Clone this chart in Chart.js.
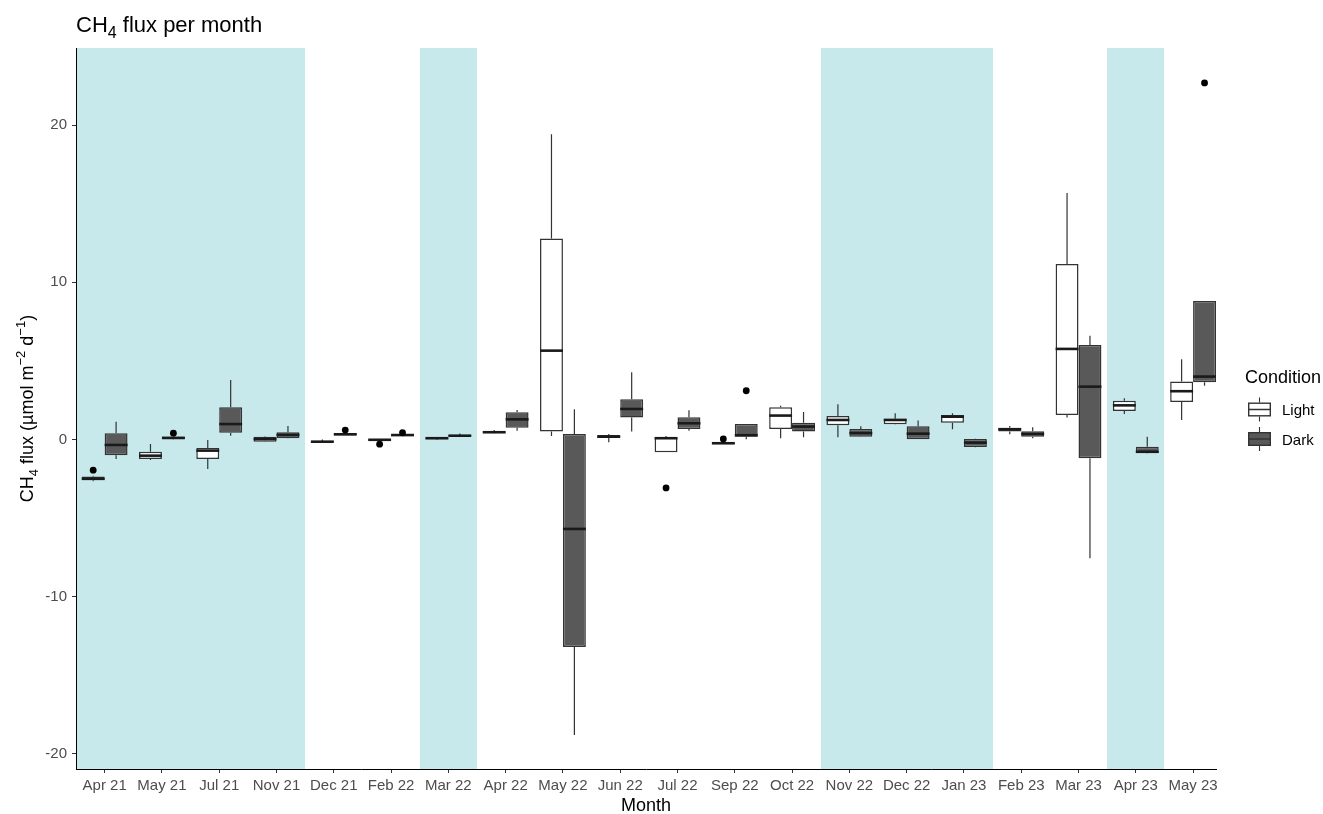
<!DOCTYPE html>
<html>
<head>
<meta charset="utf-8">
<title>CH4 flux per month</title>
<script src="https://cdn.jsdelivr.net/npm/chart.js@4.4.1/dist/chart.umd.min.js"></script>
<style>
  html, body { margin: 0; padding: 0; background: #ffffff; }
  canvas { display: block; }
</style>
</head>
<body>
<canvas id="fluxChart" width="1323" height="814"></canvas>
<script>
// Months on the x axis
const months = ['Apr 21', 'May 21', 'Jul 21', 'Nov 21', 'Dec 21', 'Feb 22', 'Mar 22', 'Apr 22', 'May 22', 'Jun 22',
                'Jul 22', 'Sep 22', 'Oct 22', 'Nov 22', 'Dec 22', 'Jan 23', 'Feb 23', 'Mar 23', 'Apr 23', 'May 23'];

// Months drawn with the blue background
const shadedMonths = ['Apr 21', 'May 21', 'Jul 21', 'Nov 21', 'Mar 22', 'Nov 22', 'Dec 22', 'Jan 23', 'Apr 23'];

// Y axis tick values
const yTicks = [-20, -10, 0, 10, 20];

// Light condition: whisker ends, quartiles, median, outliers
const lightMin    = [-2.65, -1.30, -1.88, -0.16, -0.20, -0.06, -0.03, 0.40, 0.22, -0.18, -0.81, -0.30, 0.08, 0.14, 0.95, 0.65, 0.33, 1.39, 1.62, 1.24];
const lightQ1     = [-2.60, -1.24, -1.24, -0.14, -0.18, -0.05, 0.02, 0.42, 0.50, 0.10, -0.81, -0.30, 0.67, 0.90, 0.97, 1.07, 0.50, 1.56, 1.81, 2.39];
const lightMedian = [-2.50, -1.03, -0.71, 0.03, -0.14, -0.02, 0.08, 0.46, 5.65, 0.18, 0.08, -0.24, 1.52, 1.24, 1.24, 1.45, 0.65, 5.76, 2.17, 3.07];
const lightQ3     = [-2.35, -0.78, -0.54, 0.18, -0.10, 0.00, 0.12, 0.50, 12.78, 0.28, 0.12, -0.18, 2.05, 1.50, 1.32, 1.56, 0.75, 11.16, 2.47, 3.68];
const lightMax    = [-2.30, -0.29, -0.03, 0.20, 0.00, 0.02, 0.14, 0.60, 19.41, 0.35, 0.22, -0.15, 2.15, 2.24, 1.67, 1.67, 0.86, 15.67, 2.62, 5.10];
const lightOutliers = [[-1.95], [], [], [], [], [-0.30], [], [], [], [], [-3.08], [0.03], [], [], [], [], [], [], [], []];

// Dark condition
const darkMin    = [-1.24, 0.00, 0.24, 0.06, 0.25, 0.20, 0.18, 0.56, -18.80, 0.50, 0.55, 0.01, 0.14, 0.15, 0.01, -0.50, 0.08, -7.55, -0.90, 3.42];
const darkQ1     = [-1.00, 0.02, 0.43, 0.08, 0.26, 0.22, 0.20, 0.75, -13.20, 1.39, 0.67, 0.18, 0.50, 0.18, 0.01, -0.48, 0.18, -1.20, -0.88, 3.64];
const darkMedian = [-0.35, 0.10, 0.98, 0.29, 0.33, 0.28, 0.24, 1.28, -5.69, 1.94, 1.03, 0.27, 0.82, 0.41, 0.37, -0.20, 0.35, 3.36, -0.78, 4.00];
const darkQ3     = [0.40, 0.18, 2.05, 0.46, 0.40, 0.32, 0.28, 1.73, 0.35, 2.56, 1.41, 0.99, 1.07, 0.67, 0.84, 0.03, 0.52, 6.01, -0.46, 8.81];
const darkMax    = [1.13, 0.20, 3.78, 0.86, 0.42, 0.34, 0.38, 1.88, 1.92, 4.27, 1.86, 0.99, 1.75, 0.84, 1.20, 0.05, 0.78, 6.60, 0.18, 8.81];
const darkOutliers = [[], [0.40], [], [], [0.60], [0.43], [], [], [], [], [], [3.10], [], [], [], [], [], [], [], [22.68]];

const fontFamily = "'Liberation Sans', Arial, sans-serif";
const bandColor = '#c8e9ec';
const lineColor = '#333333';
const lightFill = '#ffffff';
const darkFill = '#595959';

// Box parts for each dataset, in the same order as the datasets
const boxStats = [
    { min: lightMin, median: lightMedian, max: lightMax, q1: lightQ1, q3: lightQ3, outliers: lightOutliers },
    { min: darkMin, median: darkMedian, max: darkMax, q1: darkQ1, q3: darkQ3, outliers: darkOutliers }
];

// Text with subscripts / superscripts, parts = [{text, shift}]
function richTextWidth(ctx, parts, size) {
    let w = 0;
    parts.forEach(p => {
        ctx.font = (p.shift ? Math.round(size * 0.72) : size) + 'px ' + fontFamily;
        w += ctx.measureText(p.text).width;
    });
    return w;
}

function drawRichText(ctx, parts, x, y, size) {
    let pos = x;
    parts.forEach(p => {
        ctx.font = (p.shift ? Math.round(size * 0.72) : size) + 'px ' + fontFamily;
        ctx.fillText(p.text, pos, y + (p.shift || 0));
        pos += ctx.measureText(p.text).width;
    });
}

// Small box glyph used in the legend
function drawKey(ctx, x, cy, fill) {
    ctx.strokeStyle = lineColor;
    ctx.lineWidth = 1.1;
    ctx.beginPath();
    ctx.moveTo(x + 11.5, cy - 12);
    ctx.lineTo(x + 11.5, cy + 12);
    ctx.stroke();
    ctx.fillStyle = fill;
    ctx.fillRect(x, cy - 7, 23, 14);
    ctx.lineWidth = 1.4;
    ctx.strokeRect(x + 0.7, cy - 6.3, 21.6, 12.6);
    ctx.lineWidth = 1.5;
    ctx.beginPath();
    ctx.moveTo(x, cy);
    ctx.lineTo(x + 23, cy);
    ctx.stroke();
}

const boxPlotPlugin = {
    id: 'boxPlotParts',
    // Shaded months behind everything
    beforeDraw(chart) {
        const { ctx, chartArea, scales: { x } } = chart;
        const half = (x.getPixelForValue(1) - x.getPixelForValue(0)) / 2;
        ctx.save();
        ctx.fillStyle = bandColor;
        shadedMonths.forEach(m => {
            const c = x.getPixelForValue(months.indexOf(m));
            const left = Math.round(Math.max(c - half, chartArea.left));
            const right = Math.round(Math.min(c + half, chartArea.right));
            ctx.fillRect(left, chartArea.top, right - left, chartArea.bottom - chartArea.top);
        });
        ctx.restore();
    },
    // Whiskers under the boxes
    beforeDatasetsDraw(chart) {
        const { ctx, scales: { y } } = chart;
        ctx.save();
        ctx.strokeStyle = lineColor;
        ctx.lineWidth = 1.2;
        boxStats.forEach((s, d) => {
            chart.getDatasetMeta(d).data.forEach((bar, i) => {
                ctx.beginPath();
                ctx.moveTo(bar.x, y.getPixelForValue(s.max[i]));
                ctx.lineTo(bar.x, y.getPixelForValue(s.q3[i]));
                ctx.moveTo(bar.x, y.getPixelForValue(s.q1[i]));
                ctx.lineTo(bar.x, y.getPixelForValue(s.min[i]));
                ctx.stroke();
            });
        });
        ctx.restore();
    },
    // Medians and outliers on top
    afterDatasetsDraw(chart) {
        const { ctx, scales: { y } } = chart;
        ctx.save();
        boxStats.forEach((s, d) => {
            chart.getDatasetMeta(d).data.forEach((bar, i) => {
                const my = y.getPixelForValue(s.median[i]);
                ctx.strokeStyle = '#1a1a1a';
                ctx.lineWidth = 2.6;
                ctx.beginPath();
                ctx.moveTo(bar.x - bar.width / 2, my);
                ctx.lineTo(bar.x + bar.width / 2, my);
                ctx.stroke();
                ctx.fillStyle = '#000000';
                s.outliers[i].forEach(v => {
                    ctx.beginPath();
                    ctx.arc(bar.x, y.getPixelForValue(v), 3.4, 0, Math.PI * 2);
                    ctx.fill();
                });
            });
        });
        ctx.restore();
    },
    // Titles and legend
    afterDraw(chart) {
        const { ctx, chartArea } = chart;
        ctx.save();
        ctx.fillStyle = '#000000';
        ctx.textBaseline = 'alphabetic';
        ctx.textAlign = 'left';
        drawRichText(ctx, [{ text: 'CH' }, { text: '4', shift: 6 }, { text: ' flux per month' }], chartArea.left, 32, 22);

        // y axis title
        const yParts = [{ text: 'CH' }, { text: '4', shift: 5 }, { text: ' flux (\u00b5mol m' }, { text: '\u22122', shift: -8 },
                        { text: ' d' }, { text: '\u22121', shift: -8 }, { text: ')' }];
        const w = richTextWidth(ctx, yParts, 18);
        ctx.translate(33, (chartArea.top + chartArea.bottom) / 2);
        ctx.rotate(-Math.PI / 2);
        drawRichText(ctx, yParts, -w / 2, 0, 18);
        ctx.setTransform(1, 0, 0, 1, 0, 0);

        // x axis title
        ctx.font = '18px ' + fontFamily;
        ctx.textAlign = 'center';
        ctx.textBaseline = 'middle';
        ctx.fillText('Month', (chartArea.left + chartArea.right) / 2, 806);

        // legend
        ctx.textAlign = 'left';
        ctx.fillText('Condition', 1245, 378);
        drawKey(ctx, 1248, 409.5, lightFill);
        drawKey(ctx, 1248, 439, darkFill);
        ctx.fillStyle = '#000000';
        ctx.font = '15px ' + fontFamily;
        ctx.fillText('Light', 1282, 411);
        ctx.fillText('Dark', 1282, 441);
        ctx.restore();
    }
};

function buildChart() {
    const ctx = document.getElementById('fluxChart').getContext('2d');
    const axisGrid = { display: true, drawOnChartArea: false, drawTicks: true, tickLength: 4, color: lineColor, lineWidth: 1, offset: false };
    const axisBorder = { display: true, color: '#000000', width: 1 };
    const tickFont = { family: fontFamily, size: 15 };

    new Chart(ctx, {
        type: 'bar',
        data: {
            labels: months,
            datasets: [
                {
                    label: 'Light',
                    data: months.map((m, i) => [lightQ1[i], lightQ3[i]]),
                    backgroundColor: lightFill,
                    borderColor: lineColor,
                    borderWidth: 1.5,
                    borderSkipped: false
                },
                {
                    label: 'Dark',
                    data: months.map((m, i) => [darkQ1[i], darkQ3[i]]),
                    backgroundColor: darkFill,
                    borderColor: lineColor,
                    borderWidth: 1.5,
                    borderSkipped: false
                }
            ]
        },
        options: {
            responsive: false,
            animation: false,
            devicePixelRatio: 1,
            categoryPercentage: 0.8,
            barPercentage: 1.0,
            layout: { padding: { top: 48, right: 107, left: 0, bottom: 0 } },
            plugins: {
                legend: { display: false },
                title: { display: false },
                tooltip: { enabled: false }
            },
            scales: {
                x: {
                    type: 'category',
                    offset: true,
                    grid: axisGrid,
                    border: axisBorder,
                    ticks: { color: '#4d4d4d', font: tickFont, padding: 4, maxRotation: 0, autoSkip: false },
                    // plot ends at the edge of the last box, not half a category further
                    afterBuildTicks(scale) { scale._valueRange = months.length - 0.1; },
                    afterFit(scale) { scale.height = 45; }
                },
                y: {
                    min: -20.96,
                    max: 24.9,
                    grid: axisGrid,
                    border: axisBorder,
                    ticks: { color: '#4d4d4d', font: tickFont, padding: 5 },
                    afterBuildTicks(scale) { scale.ticks = yTicks.map(v => ({ value: v })); },
                    afterFit(scale) { scale.width = 76; }
                }
            }
        },
        plugins: [boxPlotPlugin]
    });
}

document.addEventListener('DOMContentLoaded', buildChart);
</script>
</body>
</html>
